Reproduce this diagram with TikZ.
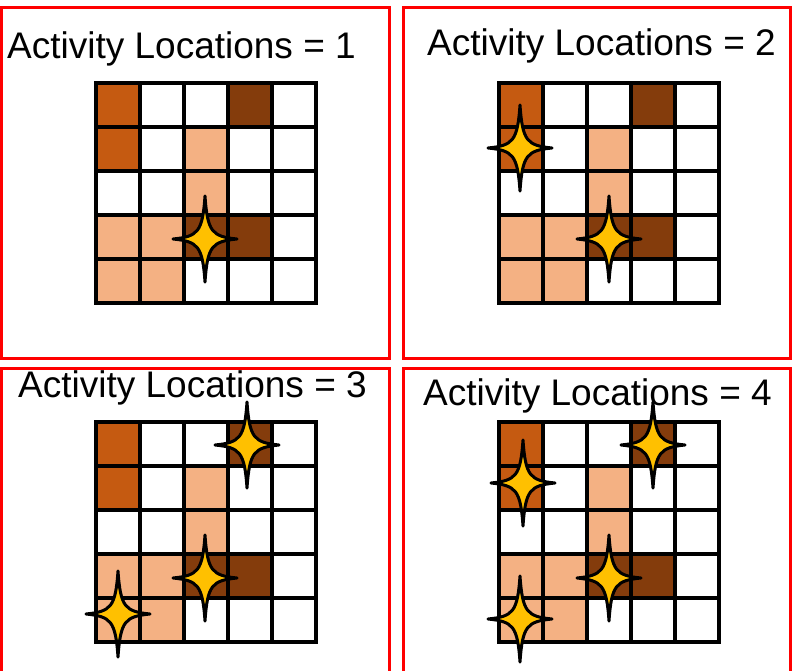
\documentclass[tikz,border=0pt]{standalone}
\usepackage{fontspec}
\setmainfont{Liberation Sans}
\usetikzlibrary{positioning}
\definecolor{ActDark}{HTML}{C55A11}
\definecolor{ActBrown}{HTML}{843C0C}
\definecolor{ActLight}{HTML}{F4B183}
\definecolor{ActGold}{HTML}{FFC000}
\definecolor{ActRed}{HTML}{FF0000}
\tikzset{panelbox/.style={draw=ActRed,line width=3pt},
  gridline/.style={draw=black,line width=3.2pt},
  title/.style={anchor=base west,inner sep=0pt,font=\fontsize{37}{44}\selectfont},
  actstar/.pic={\draw[line width=3pt,fill=ActGold,line join=round](0,-43).. controls (2.5,-7) and (7,-2.5) ..(32,0)
    .. controls (7,2.5) and (2.5,7) ..(0,43).. controls (-2.5,7) and (-7,2.5) ..(-32,0).. controls (-7,-2.5) and (-2.5,-7) ..cycle;}}
\newcommand{\ActGrid}[2]{%
  \begin{scope}[shift={(#1,#2)}]
  \foreach \c/\r/\col in {0/0/ActDark,0/1/ActDark,3/0/ActBrown,2/1/ActLight,2/2/ActLight,0/3/ActLight,1/3/ActLight,2/3/ActBrown,3/3/ActBrown,0/4/ActLight,1/4/ActLight}
    \fill[\col](44*\c,44*\r)rectangle++(44,44);
  \foreach \i in {1,...,4}{\draw[gridline](44*\i,0)--(44*\i,220);\draw[gridline](0,44*\i)--(220,44*\i);}
  \draw[gridline](0,0)rectangle(220,220);
  \end{scope}}

\begin{document}
\begin{tikzpicture}[x=1pt,y=-1pt]
\useasboundingbox(0,0)rectangle(801,670);
% panel 1
\draw[panelbox](1,7)rectangle(389,358);
\node[title](t1)at(7,58){Activity Locations = 1};
\ActGrid{96}{83}
\pic at(205,239){actstar};
% panel 2
\draw[panelbox](403,7)rectangle(790,358);
\node[title](t2)at(427,55){Activity Locations = 2};
\ActGrid{499}{83}
\pic at(520,148){actstar};\pic at(609,239){actstar};
% panel 3
\draw[panelbox](1,368)rectangle(389,690);
\node[title](t3)at(18,397){Activity Locations = 3};
\ActGrid{96}{422}
\pic at(247,445){actstar};\pic at(205,578){actstar};\pic at(118,614){actstar};
% panel 4
\draw[panelbox](403,368)rectangle(790,690);
\node[title](t4)at(423,405){Activity Locations = 4};
\ActGrid{499}{422}
\pic at(523,483){actstar};\pic at(653,445){actstar};\pic at(609,578){actstar};\pic at(520,619){actstar};
\end{tikzpicture}
\end{document}
